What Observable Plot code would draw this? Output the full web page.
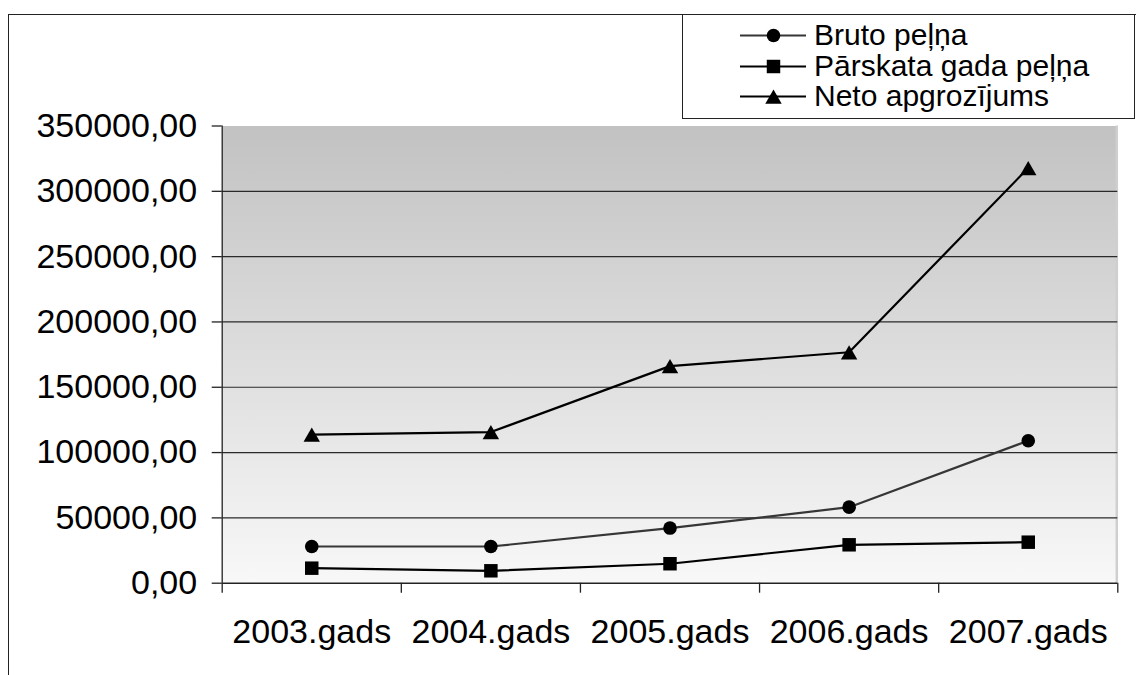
<!DOCTYPE html>
<html>
<head>
<meta charset="utf-8">
<script src="https://cdn.jsdelivr.net/npm/d3@7"></script>
<script src="https://cdn.jsdelivr.net/npm/@observablehq/plot@0.6"></script>
<style>
  html, body { margin: 0; padding: 0; background: #fff; overflow: hidden; }
  #wrap { position: relative; width: 1136px; height: 675px; font-family: "Liberation Sans", Arial, sans-serif; }
  #frame { position: absolute; left: 8px; top: 14px; width: 1200px; height: 800px; border: 1.6px solid #222; box-sizing: border-box; pointer-events: none; }
  #legend { position: absolute; left: 682px; top: 14px; width: 453px; height: 105px; border: 1.6px solid #222; box-sizing: border-box; background: #fff; padding-top: 5px; }
  .item { display: flex; align-items: center; height: 30.5px; font-size: 30px; color: #000; line-height: 30.5px; }
  .item svg { margin-left: 57px; margin-right: 8px; flex: none; }
</style>
</head>
<body>
<div id="wrap">
  <div id="chart"></div>
  <div id="frame"></div>
  <div id="legend"></div>
</div>
<script>
// ---- data ----
const years = ["2003.gads", "2004.gads", "2005.gads", "2006.gads", "2007.gads"];
const brutoPelna = [28100, 28100, 42200, 58200, 109100];
const parskataGadaPelna = [11500, 9500, 14900, 29400, 31400];
const netoApgrozijums = [113800, 115700, 166200, 176800, 317900];
const seriesNames = ["Bruto peļņa", "Pārskata gada peļņa", "Neto apgrozījums"];
const yTicks = [0, 50000, 100000, 150000, 200000, 250000, 300000, 350000];

// ---- styles per series ----
const seriesStyle = [
  {name: seriesNames[0], values: brutoPelna, symbol: "circle", r: 6.8, dy: 0, color: "#363636"},
  {name: seriesNames[1], values: parskataGadaPelna, symbol: "square", r: 7.6, dy: 0, color: "#000"},
  {name: seriesNames[2], values: netoApgrozijums, symbol: "triangle", r: 6.1, dy: 2.5, color: "#000"}
];

const fmt = d => d.toFixed(2).replace(".", ",");
const gradDefs = () => {
  const defs = d3.create("svg:defs");
  const g = defs.append("linearGradient").attr("id", "plotbg").attr("x1", 0).attr("y1", 0).attr("x2", 0).attr("y2", 1);
  g.append("stop").attr("offset", "0%").attr("stop-color", "#c2c2c2");
  g.append("stop").attr("offset", "100%").attr("stop-color", "#f8f8f8");
  return defs.node();
};

const marks = [
  gradDefs,
  Plot.frame({fill: "url(#plotbg)", stroke: null}),
  Plot.ruleX([years.length], {stroke: "#cfcfcf", strokeWidth: 2.5, dx: -1}),
  Plot.ruleY(yTicks.filter(t => t > 0 && t < 350000), {stroke: "#2a2a2a", strokeWidth: 1.2}),
  Plot.axisY({ticks: yTicks, tickSize: 10, tickPadding: 15, tickFormat: fmt, label: null, stroke: "#222", strokeWidth: 1.3}),
  Plot.axisX({ticks: d3.range(years.length + 1), tickSize: 10, tickFormat: () => "", label: null, stroke: "#222", strokeWidth: 1.3}),
  Plot.axisX({ticks: years.map((_, i) => i + 0.5), tickSize: 0, tickPadding: 36, label: null, tickFormat: t => years[Math.round(t - 0.5)]}),
  Plot.ruleX([0], {stroke: "#222", strokeWidth: 1.3}),
  Plot.ruleY([0], {stroke: "#222", strokeWidth: 1.6})
];

for (const s of seriesStyle) {
  const rows = s.values.map((v, i) => ({x: i + 0.5, y: v}));
  marks.push(Plot.line(rows, {x: "x", y: "y", stroke: s.color, strokeWidth: 2.2}));
  marks.push(Plot.dot(rows, {x: "x", y: "y", symbol: s.symbol, r: s.r, fill: "#000", stroke: null, dy: s.dy}));
}

const chart = Plot.plot({
  width: 1136,
  height: 675,
  marginLeft: 221.7,
  marginRight: 18.7,
  marginTop: 125.5,
  marginBottom: 92.3,
  style: {fontSize: "34px", fontFamily: "'Liberation Sans', Arial, sans-serif", background: "transparent", color: "#000"},
  x: {type: "linear", domain: [0, years.length], axis: null, label: null},
  y: {domain: [0, 350000], axis: null, label: null},
  marks
});
document.getElementById("chart").appendChild(chart);

// ---- legend ----
const legend = document.getElementById("legend");
for (const s of seriesStyle) {
  const item = document.createElement("div");
  item.className = "item";
  const sw = Plot.plot({
    width: 66, height: 24, margin: 0,
    x: {domain: [0, 1], axis: null}, y: {domain: [0, 1], axis: null},
    style: {background: "transparent"},
    marks: [
      Plot.ruleY([0.5], {stroke: s.color, strokeWidth: 2.2}),
      Plot.dot([{x: 0.5, y: 0.5}], {x: "x", y: "y", symbol: s.symbol, r: s.r, fill: "#000", stroke: null, dy: s.dy})
    ]
  });
  item.appendChild(sw);
  const label = document.createElement("span");
  label.textContent = s.name;
  item.appendChild(label);
  legend.appendChild(item);
}
</script>
</body>
</html>
